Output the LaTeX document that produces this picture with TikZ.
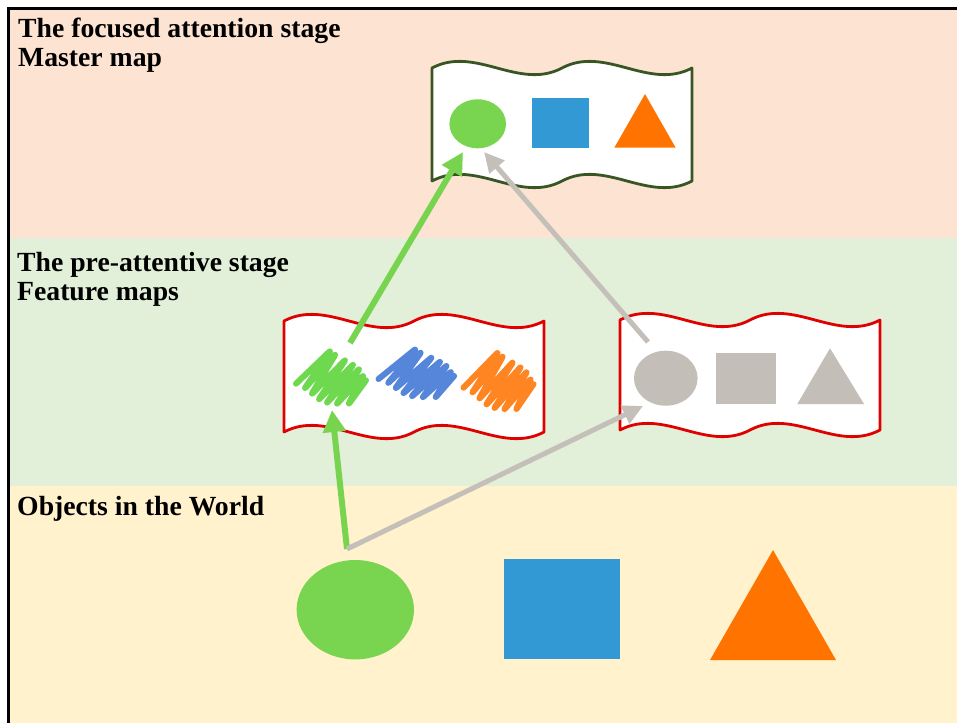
\documentclass[tikz,border=0pt]{standalone}
\usepackage{fontspec}
\setmainfont{Liberation Serif}
\usetikzlibrary{arrows.meta}

% band and shape colours
\definecolor{bandpeach}{HTML}{FDE4D2}
\definecolor{bandgreen}{HTML}{E2EFD9}
\definecolor{bandyellow}{HTML}{FFF2CC}
\definecolor{ballgreen}{HTML}{79D44F}
\definecolor{boxblue}{HTML}{3399D4}
\definecolor{conorange}{HTML}{FF7400}
\definecolor{shapegray}{HTML}{C3BFB8}
\definecolor{arrowgreen}{HTML}{78D44F}
\definecolor{arrowgray}{HTML}{C4C0B9}
\definecolor{scrgreen}{HTML}{6ED84F}
\definecolor{scrblue}{HTML}{5586DA}
\definecolor{scrorange}{HTML}{FF8522}
\definecolor{mapred}{HTML}{DF0000}
\definecolor{mapgreen}{HTML}{375623}

% double-wave banner: #1 style, #2 left, #3 top, #4 right, #5 bottom
\newcommand\wavebanner[5]{%
  \draw[#1] (#2,#3)
    .. controls ({#2+(#4-#2)/6},{#3-23}) and ({#2+(#4-#2)/3},{#3+23}) .. ({(#2+#4)/2},#3)
    .. controls ({#2+2*(#4-#2)/3},{#3-23}) and ({#2+5*(#4-#2)/6},{#3+23}) .. (#4,#3)
    -- (#4,#5)
    .. controls ({#2+5*(#4-#2)/6},{#5+23}) and ({#2+2*(#4-#2)/3},{#5-23}) .. ({(#2+#4)/2},#5)
    .. controls ({#2+(#4-#2)/3},{#5+23}) and ({#2+(#4-#2)/6},{#5-23}) .. (#2,#5)
    -- cycle;}

% hand-drawn colour scribble
\newcommand\scribble[1]{%
  \draw[scribblestroke,#1] (0,0) -- (35,-30) -- (8,5) -- (40,-27) -- (15,10)
    -- (50,-22) -- (22,15) -- (58,-18) -- (30,18) -- (64,-14) -- (40,19)
    -- (68,-8) -- (52,19) -- (70,-3);}

\begin{document}
\begin{tikzpicture}[x=1pt,y=-1pt,
  stagelabel/.style={anchor=base west, inner sep=0pt, text=black,
    font=\fontsize{27.7}{30}\selectfont\bfseries},
  scribblestroke/.style={line width=6pt, line cap=round, line join=round, rounded corners=3pt},
  bannerline/.style={fill=white, line width=2.8pt, line join=round},
  greenarrow/.style={draw=arrowgreen, line width=6pt, -{Triangle[length=22pt,width=22pt]}},
  grayarrow/.style={draw=arrowgray, line width=5pt, -{Triangle[length=20pt,width=19pt]}},
]
\useasboundingbox (0,0) rectangle (957,723);

% stage bands
\fill[bandpeach]  (8.7,8.7) rectangle (957,238);
\fill[bandgreen]  (8.7,238) rectangle (957,486);
\fill[bandyellow] (8.7,486) rectangle (957,723);
\draw[line width=2.7pt] (8.7,723) -- (8.7,8.7) -- (957,8.7);

% stage titles
\node[stagelabel] (focusTitle)  at (18,37.3)  {The focused attention stage};
\node[stagelabel] (masterTitle) at (18,66)    {Master map};
\node[stagelabel] (preTitle)    at (17,271.7) {The pre-attentive stage};
\node[stagelabel] (featTitle)   at (17,300)   {Feature maps};
\node[stagelabel] (worldTitle)  at (17,515)   {Objects in the World};

% master map
\wavebanner{bannerline, draw=mapgreen}{432}{68}{692}{181}
\fill[ballgreen] (477.7,123.8) ellipse [x radius=28.3pt, y radius=24.5pt];
\fill[boxblue] (531.7,98.3) rectangle (589,147.7);
\fill[conorange] (645,94) -- (675.7,147.7) -- (614.3,147.7) -- cycle;

% feature map: colours
\wavebanner{bannerline, draw=mapred}{284}{321}{544}{432}
\scribble{draw=scrgreen, shift={(296,383.7)}, yscale=1.12}
\scribble{draw=scrblue, shift={(378.5,379)}, xscale=1.08, yscale=1.02}
\scribble{draw=scrorange, shift={(463.5,387.7)}, yscale=1.2}

% feature map: forms
\wavebanner{bannerline, draw=mapred}{620}{320}{880}{430}
\fill[shapegray] (665.8,378.2) ellipse [x radius=31.8pt, y radius=27.5pt];
\fill[shapegray] (716,353.3) rectangle (776,404);
\fill[shapegray] (830,348.3) -- (864,404) -- (797.3,404) -- cycle;

% objects in the world
\fill[ballgreen] (355.3,609.7) ellipse [x radius=58.7pt, y radius=49.7pt];
\fill[boxblue] (504,559.3) rectangle (620,659.3);
\fill[conorange] (773,550) -- (836,660) -- (710,660) -- cycle;

% arrow end points
\coordinate (worldSrc)       at (347,549);
\coordinate (featColorTip)   at (332,410);
\coordinate (featGrayTip)    at (643,406);
\coordinate (colorSrc)       at (350,343);
\coordinate (graySrc)        at (648,342);
\coordinate (masterGreenTip) at (463,152);
\coordinate (masterGrayTip)  at (484,152);

\draw[greenarrow] (worldSrc) -- (featColorTip);
\draw[grayarrow]  (worldSrc) -- (featGrayTip);
\draw[greenarrow] (colorSrc) -- (masterGreenTip);
\draw[grayarrow]  (graySrc) -- (masterGrayTip);
\end{tikzpicture}
\end{document}
